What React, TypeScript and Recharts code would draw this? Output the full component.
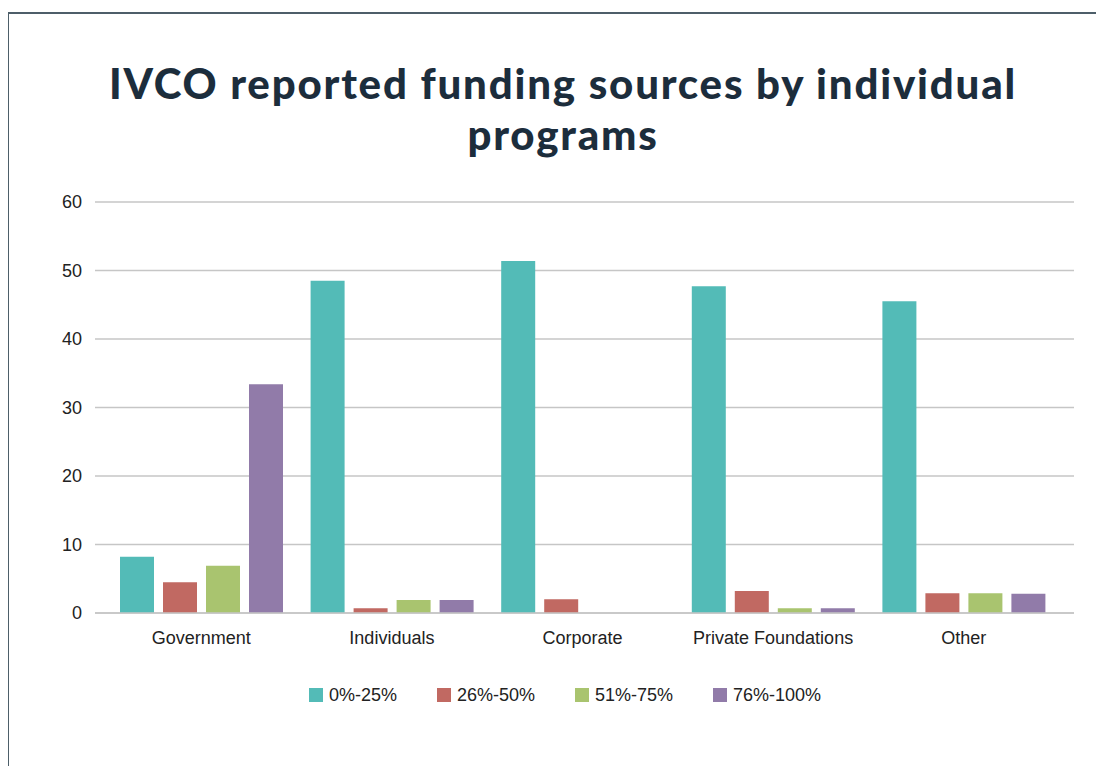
import React from "react";
import { BarChart, Bar, XAxis, YAxis, CartesianGrid, Legend } from "recharts";

const categories = ["Government", "Individuals", "Corporate", "Private Foundations", "Other"];
const s0to25 = [8.2, 48.5, 51.4, 47.7, 45.5];
const s26to50 = [4.5, 0.7, 2.0, 3.2, 2.9];
const s51to75 = [6.9, 1.9, 0, 0.7, 2.9];
const s76to100 = [33.4, 1.9, 0, 0.7, 2.8];
const yTicks = [0, 10, 20, 30, 40, 50, 60];

const seriesNames = ["0%-25%", "26%-50%", "51%-75%", "76%-100%"];
const seriesKeys = ["a", "b", "c", "d"];
const seriesColors = ["#53bbb7", "#c16962", "#a9c46f", "#917ba9"];
const seriesValues = [s0to25, s26to50, s51to75, s76to100];

const data = categories.map((name, i) => {
  const row: Record<string, any> = { name };
  seriesKeys.forEach((k, j) => {
    row[k] = seriesValues[j][i];
  });
  return row;
});

const FONT = '"Liberation Sans", Arial, Helvetica, sans-serif';

const LegendContent = (props: any) => {
  const payload = props.payload || [];
  return (
    <div
      style={{
        display: "flex",
        justifyContent: "center",
        paddingLeft: 26,
        height: 20,
        alignItems: "center",
        fontFamily: FONT,
        fontSize: 18,
        color: "#222",
      }}
    >
      {payload.map((p: any, i: number) => (
        <div
          key={i}
          style={{ display: "flex", alignItems: "center", marginRight: i < payload.length - 1 ? 40 : 0 }}
        >
          <span style={{ display: "inline-block", width: 14, height: 14, background: p.color, marginRight: 6 }} />
          <span>{p.value}</span>
        </div>
      ))}
    </div>
  );
};

export default function App() {
  return (
    <div style={{ position: "relative", width: 1104, height: 774, margin: -8, overflow: "hidden", background: "#fff" }}>
      <div
        style={{
          position: "absolute",
          left: 7,
          top: 12,
          width: 1100,
          height: 770,
          borderTop: "2px solid #4d5e69",
          borderLeft: "2px solid #4d5e69",
        }}
      />
      <div
        style={{
          position: "absolute",
          left: 0,
          top: 58,
          width: 1126,
          textAlign: "center",
          fontFamily: "Lato, sans-serif",
          fontWeight: 900,
          fontSize: 42,
          letterSpacing: 1.8,
          lineHeight: "51px",
          color: "#1c2d3c",
        }}
      >
        IVCO reported funding sources by individual
        <br />
        programs
      </div>
      <div style={{ position: "absolute", left: 0, top: 0 }}>
        <BarChart
          width={1104}
          height={774}
          data={data}
          margin={{ top: 202, right: 30, left: 0, bottom: 111 }}
          barSize={34}
          barGap={9}
        >
          <CartesianGrid vertical={false} stroke="#c6c6c6" strokeWidth={1.3} />
          <XAxis
            dataKey="name"
            padding={{ left: 11, right: 15 }}
            axisLine={{ stroke: "#c6c6c6", strokeWidth: 1.3 }}
            tickLine={false}
            tickSize={0}
            tickMargin={18}
            tick={{ fill: "#222", fontSize: 18, fontFamily: FONT }}
            interval={0}
          />
          <YAxis
            width={95}
            domain={[0, 60]}
            ticks={yTicks}
            axisLine={false}
            tickLine={false}
            tickSize={0}
            tickMargin={13}
            tick={{ fill: "#222", fontSize: 18, fontFamily: FONT }}
          />
          <Legend
            content={<LegendContent />}
            wrapperStyle={{ left: 0, width: 1104, top: 685, bottom: "auto" }}
          />
          {seriesKeys.map((k, j) => (
            <Bar key={k} dataKey={k} name={seriesNames[j]} fill={seriesColors[j]} isAnimationActive={false} />
          ))}
        </BarChart>
      </div>
    </div>
  );
}
